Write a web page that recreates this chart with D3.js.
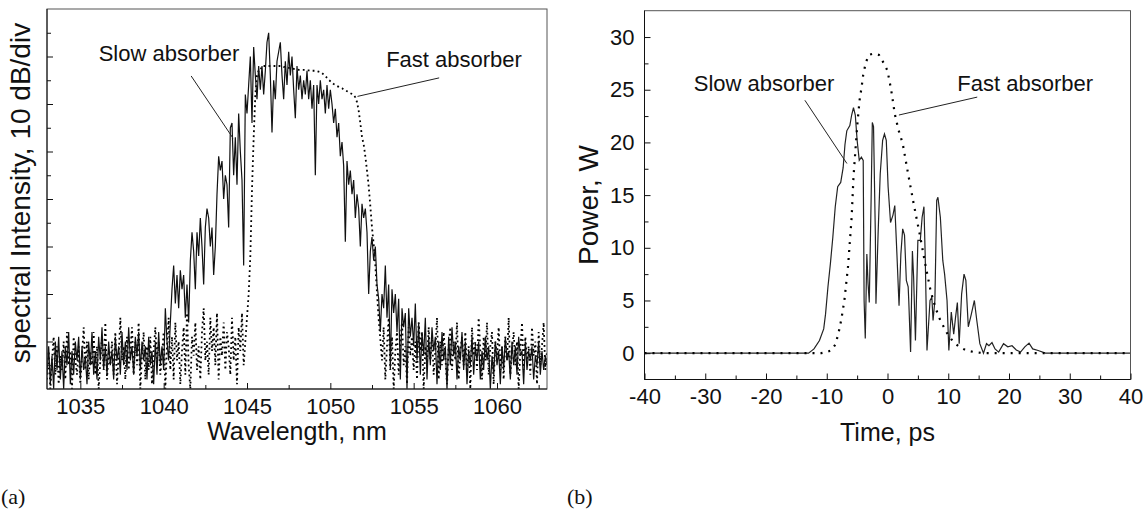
<!DOCTYPE html>
<html>
<head>
<meta charset="utf-8">
<script src="https://cdn.jsdelivr.net/npm/d3@7"></script>
<style>
body { margin: 0; background: #fff; }
text { font-family: Arial, "Liberation Sans", sans-serif; fill: #111; }
</style>
</head>
<body>
<svg id="chart" width="1148" height="514"></svg>
<script>
'use strict';

// (a) spectra, sampled every 0.1 nm from 1033 nm, values in dB (10 dB per division)
var spectrumStart = 1033;
var spectrumStep = 0.1;
var slowSpectrum = [
    3, 9, 1, 7, 0, 10, 4, 11, 2, 8,
    0, 9, 5, 12, 1, 8, 3, 10, 6, 11,
    2, 9, 4, 7, 1, 10, 5, 12, 3, 8,
    2, 11, 6, 13, 4, 9, 3, 10, 5, 8,
    2, 11, 6, 9, 3, 12, 5, 10, 4, 13,
    6, 9, 3, 11, 7, 12, 4, 10, 6, 9,
    2, 11, 5, 8, 1, 10, 3, 12, 5, 9,
    4, 17, 10, 6, 14, 21, 26, 18, 24, 17,
    25, 21, 24, 15, 22, 14, 27, 33, 29, 21,
    33, 28, 36, 30, 22, 34, 38, 36, 30, 34,
    24, 30, 41, 49, 46, 48, 40, 45, 43, 34,
    55, 56, 45, 53, 43, 58, 50, 44, 26, 62,
    58, 64, 70, 56, 72, 66, 61, 68, 63, 68,
    62, 67, 73, 75, 66, 54, 65, 61, 69, 71,
    73, 66, 61, 69, 64, 71, 66, 70, 63, 57,
    68, 63, 66, 61, 65, 62, 67, 61, 65, 59,
    64, 45, 64, 60, 65, 61, 63, 58, 64, 59,
    63, 60, 56, 59, 53, 56, 49, 52, 47, 31,
    48, 43, 46, 41, 44, 36, 41, 38, 30, 39,
    36, 38, 33, 20, 29, 32, 27, 30, 22, 19,
    12, 20, 17, 26, 15, 22, 4, 21, 16, 20,
    12, 19, 2, 17, 13, 16, 0, 17, 11, 15,
    9, 18, 6, 14, 3, 12, 7, 15, 2, 11,
    5, 13, 8, 11, 1, 10, 4, 12, 6, 9,
    0, 11, 5, 13, 7, 10, 2, 9, 6, 12,
    4, 10, 1, 8, 5, 11, 3, 9, 6, 10,
    2, 8, 4, 11, 6, 9, 0, 7, 3, 10,
    5, 8, 1, 9, 4, 11, 6, 8, 2, 10,
    5, 9, 3, 11, 7, 8, 1, 10, 4, 8,
    6, 9, 2, 7, 5, 10, 3, 8, 4, 7,
    5
];
var fastSpectrum = [
    2, 8, 0, 6, 11, 3, 9, 1, 7, 4,
    10, 2, 12, 5, 8, 0, 11, 6, 3, 9,
    1, 7, 13, 4, 10, 2, 8, 5, 12, 3,
    9, 0, 6, 11, 4, 14, 2, 8, 5, 10,
    3, 12, 1, 7, 15, 6, 9, 2, 11, 4,
    8, 13, 3, 10, 5, 14, 0, 7, 12, 2,
    9, 4, 11, 1, 8, 13, 6, 10, 3, 7,
    12, 0, 9, 15, 4, 11, 2, 14, 6, 10,
    1, 8, 13, 3, 16, 5, 0, 11, 7, 14,
    4, 9, 2, 12, 17, 6, 10, 3, 15, 8,
    13, 5, 16, 2, 11, 7, 14, 4, 12, 9,
    3, 15, 6, 11, 1, 13, 8, 16, 5, 10,
    15, 20, 28, 42, 53, 62, 66, 67, 67, 68,
    68, 68, 68, 68, 68, 68, 68, 68, 68, 68,
    68, 68, 67.8, 67.8, 67.6, 67.6, 67.5, 67.5, 67.4, 67.3,
    67.3, 67.2, 67.2, 67.2, 67.2, 67.2, 67.1, 67.1, 67, 67,
    67, 67, 66.9, 66.8, 66.7, 66.5, 66.2, 65.9, 65.5, 65.1,
    64.8, 64.5, 64.2, 64, 63.8, 63.6, 63.4, 63.3, 63.1, 62.9,
    62.7, 62.5, 62.3, 62.1, 61.9, 61.4, 60.4, 58.6, 56, 53,
    51.5, 49, 46, 42.7, 38.5, 34, 30.5, 26, 20.3, 14.7,
    10.5, 6, 13, 2, 9, 15, 4, 11, 0, 8,
    12, 3, 10, 14, 5, 9, 1, 13, 7, 11,
    4, 10, 2, 14, 8, 12, 0, 9, 5, 13,
    6, 11, 3, 8, 15, 2, 10, 5, 12, 7,
    1, 9, 13, 4, 10, 6, 14, 2, 8, 11,
    5, 12, 3, 9, 0, 13, 7, 10, 4, 15,
    8, 2, 11, 6, 14, 3, 9, 12, 1, 10,
    7, 13, 4, 9, 2, 11, 6, 15, 3, 8,
    12, 5, 10, 0, 8, 14, 4, 11, 6, 9,
    3, 13, 7, 10, 1, 12, 5, 9, 14, 4,
    8
];
var wavelengthTicks = [1035, 1040, 1045, 1050, 1055, 1060];
var wavelengthMinor = [1037.5, 1042.5, 1047.5, 1052.5, 1057.5, 1062.5];
var dbTicks = [10, 20, 30, 40, 50, 60, 70];
var dbMinor = [5, 15, 25, 35, 45, 55, 65, 75];

// (b) pulses, time in ps, power in W
var slowTime = [-40, -13, -12.1, -11.2, -10.5, -10.2, -9.8, -9.4, -9.0, -8.6, -8.2, -7.7, -7.3, -7.0, -6.7, -6.2, -5.9, -5.6, -5.3,
    -5.0, -4.65, -4.3, -4.0, -3.85, -3.66, -3.4, -3.2, -3.0, -2.7, -2.5, -2.3, -2.0, -1.9, -1.55, -1.2, -0.8, -0.5, -0.2,
    0.1, 0.5, 0.9, 1.2, 1.55, 1.9, 2.2, 2.5, 2.8, 3.1, 3.4, 3.5, 3.8, 4.1, 4.3, 4.6, 5.0, 5.4, 5.7, 6.0, 6.2, 6.5,
    7.0, 7.3, 7.5, 7.8, 8.1, 8.3, 8.7, 9.1, 9.4, 9.8, 10.1, 10.5, 10.9, 11.2, 11.5, 11.8, 12.2, 12.6, 12.9, 13.3,
    13.8, 14.3, 14.7, 15.2, 15.8, 16.3, 16.7, 17.2, 17.7, 18.3, 19.1, 19.8, 20.5, 21.2, 21.9, 22.6, 23.3, 23.9,
    24.8, 26, 40];
var slowPower = [0, 0, 0.4, 1.2, 2.3, 3.7, 6.3, 8.5, 11, 13.9, 15.8, 16.2, 17.6, 19.8, 21.1, 21.6, 22.6, 23.3, 22.6,
    20.2, 18.3, 18.6, 18.3, 5, 1.4, 9.4, 6.6, 4.8, 14.5, 21.9, 21.5, 11.3, 4.7, 11.3, 17, 20.2, 20.8, 20.2,
    15.8, 12.4, 13.1, 14, 9.4, 4.5, 9.4, 11.8, 11.2, 6.9, 6.3, 5, 0.1, 9.7, 7.2, 1.2, 10.7, 10.7, 12.9, 13.9, 9.4, 0.25,
    5, 5.3, 3.1, 5, 14.5, 14.8, 12.9, 8.8, 7.5, 5, 0.25, 3.9, 1.8, 3.4, 4.8, 0.9, 5.6, 7.5, 6.9, 2.5,
    3.7, 5, 3.1, 0.9, 0, 0.9, 0.7, 1.0, 0.4, 0.1, 0.9, 0.6, 0.7, 0.3, 0.1, 0.6, 0.95, 0.4,
    0.25, 0, 0];
var fastTime = [-40, -14, -12, -10.9, -10, -9.3, -8.6, -8.1, -7.6, -7.1, -6.5, -5.9, -5.6, -5, -4.6, -4.3, -4, -3.6, -3.1,
    -2.5, -2, -1.4, -1, -0.5, 0, 0.6, 1.2, 1.8, 2.5, 3.4, 4.3, 5.3, 6.2, 7.1, 7.9, 8.7, 9.9, 10.8, 11.8, 13, 14.3, 16, 40];
var fastPower = [0, 0, 0, 0, 0.1, 0.25, 0.8, 1.8, 3.2, 5, 8.2, 12.9, 16.7, 21.5, 24, 25.1, 26.4, 27.5, 28.3,
    28.4, 28.4, 28.3, 27.9, 27.4, 26.8, 25, 22.7, 21.2, 19.9, 17, 14.2, 11.3, 8.5, 5.9, 4.3, 3.1, 1.8, 1.1, 0.6, 0.25, 0.1, 0, 0];
var timeTicks = [-40, -30, -20, -10, 0, 10, 20, 30, 40];
var timeMinor = [-35, -25, -15, -5, 5, 15, 25, 35];
var powerTicks = [0, 5, 10, 15, 20, 25, 30];
var powerMinor = [2.5, 7.5, 12.5, 17.5, 22.5, 27.5];

var d3 = window.d3;
var svg = d3.select('#chart');
var fontSize = 22;
var plainNumber = function (d) { return String(d); }; // hyphen, not the unicode minus

function drawAxis(g, axis, tx, ty) {
    var a = g.append('g').attr('transform', 'translate(' + tx + ',' + ty + ')').call(axis);
    a.select('.domain').remove();
    a.selectAll('line').attr('stroke', '#111');
    a.selectAll('text').attr('font-size', fontSize).attr('fill', '#111')
        .attr('font-family', 'Arial, "Liberation Sans", sans-serif');
    return a;
}

function frame(g, x, y, id) {
    var x0 = x.range()[0], x1 = x.range()[1], y0 = y.range()[1], y1 = y.range()[0];
    g.append('clipPath').attr('id', id).append('rect')
        .attr('x', x0).attr('y', y0).attr('width', x1 - x0).attr('height', y1 - y0);
    g.append('rect').attr('x', x0).attr('y', y0).attr('width', x1 - x0).attr('height', y1 - y0)
        .attr('fill', 'none').attr('stroke', '#555').attr('stroke-width', 1);
    g.append('line').attr('x1', x0).attr('x2', x0).attr('y1', y0).attr('y2', y1).attr('stroke', '#111');
    g.append('line').attr('x1', x0).attr('x2', x1).attr('y1', y1).attr('y2', y1).attr('stroke', '#111');
}

function leader(g, x, y, from, to) {
    g.append('line')
        .attr('x1', x(from[0])).attr('y1', y(from[1]))
        .attr('x2', x(to[0])).attr('y2', y(to[1]))
        .attr('stroke', '#222').attr('stroke-width', 1);
}

function label(g, x, y, at, txt) {
    g.append('text').attr('x', x(at[0])).attr('y', y(at[1]))
        .attr('font-size', 22).text(txt);
}

// ---------- (a) spectrum ----------
var xL = d3.scaleLinear().domain([1033, 1063]).range([47, 547]);
var yL = d3.scaleLinear().domain([0, 80]).range([389, 9]);
var gA = svg.append('g');

var specLine = d3.line()
    .x(function (d, i) { return xL(spectrumStart + i * spectrumStep); })
    .y(function (d) { return yL(d); });

var dataA = gA.append('g').attr('clip-path', 'url(#clipA)');
dataA.append('path').datum(fastSpectrum).attr('d', specLine)
    .attr('fill', 'none').attr('stroke', '#000').attr('stroke-width', 1.8)
    .attr('stroke-dasharray', '1.8,3.2');
dataA.append('path').datum(slowSpectrum).attr('d', specLine)
    .attr('fill', 'none').attr('stroke', '#111').attr('stroke-width', 1.2);

frame(gA, xL, yL, 'clipA');

drawAxis(gA, d3.axisBottom(xL).tickValues(wavelengthTicks).tickSize(-6).tickPadding(9).tickFormat(plainNumber), 0, 389);
drawAxis(gA, d3.axisBottom(xL).tickValues(wavelengthMinor).tickSize(-4).tickFormat(''), 0, 389);
drawAxis(gA, d3.axisLeft(yL).tickValues(dbTicks).tickSize(-6).tickFormat(''), 47, 0);
drawAxis(gA, d3.axisLeft(yL).tickValues(dbMinor).tickSize(-4).tickFormat(''), 47, 0);

gA.append('text').attr('text-anchor', 'middle').attr('font-size', 28)
    .attr('transform', 'translate(30,193) rotate(-90)')
    .text('spectral Intensity, 10 dB/div');
gA.append('text').attr('text-anchor', 'middle').attr('font-size', 25)
    .attr('x', xL(1048)).attr('y', 440).text('Wavelength, nm');

label(gA, xL, yL, [1036.1, 69], 'Slow absorber');
leader(gA, xL, yL, [1041.65, 65.9], [1044.16, 52.8]);
label(gA, xL, yL, [1053.35, 67.7], 'Fast absorber');
leader(gA, xL, yL, [1056.53, 65.5], [1051.63, 61.6]);

// ---------- (b) pulse ----------
var xR = d3.scaleLinear().domain([-40, 40]).range([644.5, 1130.5]);
var yR = d3.scaleLinear().domain([-2.5, 32.5]).range([379.5, 10.7]);
var gB = svg.append('g');

var slowPts = slowTime.map(function (t, i) { return [t, slowPower[i]]; });
var fastPts = fastTime.map(function (t, i) { return [t, fastPower[i]]; });
var pulseLine = d3.line()
    .x(function (d) { return xR(d[0]); })
    .y(function (d) { return yR(d[1]); });

var dataB = gB.append('g').attr('clip-path', 'url(#clipB)');
dataB.append('path').datum(slowPts).attr('d', pulseLine)
    .attr('fill', 'none').attr('stroke', '#222').attr('stroke-width', 1.2);
dataB.append('path').datum(fastPts).attr('d', pulseLine)
    .attr('fill', 'none').attr('stroke', '#000').attr('stroke-width', 2.2)
    .attr('stroke-dasharray', '2,6');

frame(gB, xR, yR, 'clipB');

drawAxis(gB, d3.axisBottom(xR).tickValues(timeTicks).tickSize(-6).tickPadding(9).tickFormat(plainNumber), 0, 379.5);
drawAxis(gB, d3.axisBottom(xR).tickValues(timeMinor).tickSize(-4).tickFormat(''), 0, 379.5);
drawAxis(gB, d3.axisLeft(yR).tickValues(powerTicks).tickSize(-6).tickPadding(10).tickFormat(plainNumber), 644.5, 0);
drawAxis(gB, d3.axisLeft(yR).tickValues(powerMinor).tickSize(-4).tickFormat(''), 644.5, 0);

gB.append('text').attr('text-anchor', 'middle').attr('font-size', 28)
    .attr('transform', 'translate(598,205) rotate(-90)')
    .text('Power, W');
gB.append('text').attr('text-anchor', 'middle').attr('font-size', 25)
    .attr('x', xR(0)).attr('y', 441).text('Time, ps');

label(gB, xR, yR, [-31.9, 24.9], 'Slow absorber');
leader(gB, xR, yR, [-13.6, 24.0], [-6.68, 18.0]);
label(gB, xR, yR, [11.5, 24.9], 'Fast absorber');
leader(gB, xR, yR, [14.77, 24.3], [1.88, 22.6]);

// panel letters
svg.append('text').attr('x', 1).attr('y', 504).attr('font-size', 22)
    .style('font-family', '"Liberation Serif", "Times New Roman", serif').text('(a)');
svg.append('text').attr('x', 567).attr('y', 504).attr('font-size', 22)
    .style('font-family', '"Liberation Serif", "Times New Roman", serif').text('(b)');
</script>
</body>
</html>
